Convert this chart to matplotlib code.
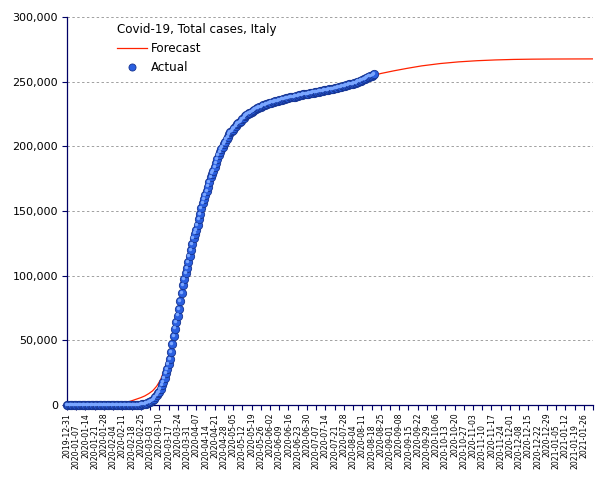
import numpy as np
import matplotlib
matplotlib.use("Agg")
import matplotlib.pyplot as plt
import matplotlib.dates as mdates
import matplotlib.transforms as mtransforms
from matplotlib.ticker import FuncFormatter, FixedLocator

START = np.datetime64("2019-12-31")
END = np.datetime64("2021-02-02")

# daily cumulative cases, one value per day from START
actual_cases = [0] * 52 + [
    20, 79, 150, 227, 320, 445, 650, 888, 1128,
    1694, 2036, 2502, 3089, 3858, 4636, 5883, 7375, 9172, 10149,
    12462, 15113, 17660, 21157, 24747, 27980, 31506, 35713, 41035, 47021,
    53578, 59138, 63927, 69176, 74386, 80589, 86498, 92472, 97689, 101739,
    105792,
    110574, 115242, 119827, 124632, 128948, 132547, 135586, 139422, 143626, 147577,
    152271, 156363, 159516, 162488, 165155, 168941, 172434, 175925, 178972, 181228,
    183957, 187327, 189973, 192994, 195351, 197675, 199414, 201505, 203591, 205463,
    207428, 209328, 210717, 211938, 213013, 214457, 215858, 217185, 218268, 219070,
    219814, 221216, 222104, 223096, 223885, 224760, 225435, 225886, 226699, 227364,
    228006, 228658, 229327, 229858, 230158, 230555, 231139, 231732, 232248, 232664,
    233019,
    233197, 233515, 233836, 234013, 234531, 234801, 234998, 235278, 235561, 235763,
    236142, 236305, 236651, 236989, 237290, 237500, 237828, 238159, 238011, 238275,
    238499, 238720, 238833, 239410, 239706, 239961, 240136, 240310, 240436, 240578,
    240760, 240961, 241184, 241419, 241611, 241819, 241956, 242149, 242363, 242639,
    242827, 243061, 243230, 243344, 243506, 243736, 243967, 244216, 244434, 244624,
    244752, 245032, 245338, 245590, 245864, 246118, 246286, 246488, 246776, 247158,
    247537,
    247832, 248070, 248229, 248419, 248803, 249204, 249756, 250103, 250566, 250825,
    251237, 251713, 252235, 252809, 253438, 253915, 254235, 254636, 255278, 256118,
]

# forecast, days after START and cumulative cases
forecast_day = [35, 42, 48, 52, 56, 59, 62, 65, 68, 71, 74, 77, 80, 84, 91, 98,
                105, 112, 119, 126, 133, 140, 147, 154, 161, 168, 175, 182, 189,
                196, 203, 210, 217, 224, 231, 238, 248, 258, 269, 283, 297, 311,
                325, 339, 353, 367, 381, 399]
forecast_cases = [300, 1000, 2900, 4300, 5700, 7000, 8800, 11000, 14500, 19500,
                  27500, 37000, 49000, 70000, 108000, 138000, 164000, 185000,
                  201000, 212000, 220000, 225800, 230300, 233700, 236000, 238000,
                  239500, 241000, 242400, 243700, 245200, 247000, 249000, 251500,
                  254300, 256300, 258400, 260300, 262200, 264000, 265300, 266200,
                  266800, 267200, 267400, 267500, 267550, 267600]

actual_dates = START + np.arange(len(actual_cases))
forecast_dates = START + np.array(forecast_day)
tick_dates = np.arange(START, END + 1, 7)

NAVY = "#000066"

fig = plt.figure(figsize=(6.05, 4.8), dpi=100)
ax = fig.add_axes([67 / 605, 75 / 480, 526 / 605, 388 / 480])

ax.plot(forecast_dates, forecast_cases, color="#ff2200", lw=0.9, zorder=2,
        label="Forecast")
ax.plot(actual_dates, actual_cases, ls="none", marker="o", ms=6.0,
        mfc="#2a5fe0", mec="#16338f", mew=0.6, zorder=3, clip_on=False,
        label="Actual")
# small highlight to give the markers a rounded look
hl = mtransforms.offset_copy(ax.transData, fig=fig, x=-0.8, y=0.8, units="points")
ax.plot(actual_dates, actual_cases, ls="none", marker="o", ms=2.5,
        mfc="#7aa6ff", mec="none", zorder=4, clip_on=False, transform=hl)

ax.set_ylim(0, 300000)
ax.set_xlim(START, END)
ax.set_yticks(np.arange(0, 300001, 50000))
ax.yaxis.set_major_formatter(FuncFormatter(lambda v, p: f"{v:,.0f}"))
ax.grid(axis="y", color="#a0a0a0", ls=(0, (2.5, 2.5)), lw=0.7)
ax.set_axisbelow(True)

# staggered date labels: even weeks as major ticks, odd weeks as minor ticks
tick_num = mdates.date2num(tick_dates)
labels = [str(d) for d in tick_dates]
labels[-1] = ""
ax.xaxis.set_major_locator(FixedLocator(tick_num[::2]))
ax.xaxis.set_minor_locator(FixedLocator(tick_num[1::2]))
ax.set_xticklabels(labels[::2], rotation=90, va="top", ha="center")
ax.set_xticklabels(labels[1::2], minor=True, rotation=90, va="top", ha="center")
ax.tick_params(axis="x", which="both", direction="out", length=3.6, width=0.8,
               color=NAVY, labelsize=5.6, labelcolor="black")
ax.tick_params(axis="x", which="major", pad=2)
ax.tick_params(axis="x", which="minor", pad=10.5)
ax.tick_params(axis="y", direction="out", length=3.6, width=0.8, color=NAVY,
               labelsize=8, pad=3)

for s in ["top", "right"]:
    ax.spines[s].set_visible(False)
for s in ["left", "bottom"]:
    ax.spines[s].set_color(NAVY)
    ax.spines[s].set_linewidth(0.9)

leg = ax.legend(loc="upper left", bbox_to_anchor=(0.095, 0.985), frameon=False,
                title="Covid-19, Total cases, Italy", title_fontsize=8.6,
                fontsize=8.6, borderpad=0, borderaxespad=0, handlelength=2.5,
                handletextpad=0.35, labelspacing=0.5, alignment="left",
                markerscale=0.85)

fig.savefig("out.png", dpi=100)
